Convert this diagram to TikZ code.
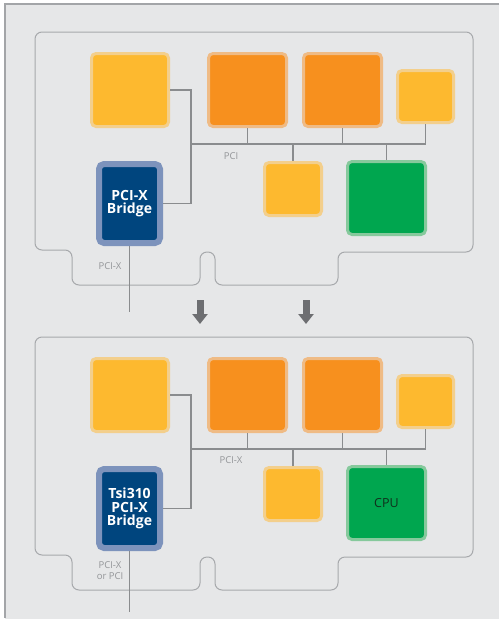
\documentclass[tikz,border=0pt]{standalone}
\usepackage{fontspec}
\setmainfont{Open Sans}
\usetikzlibrary{arrows.meta}
\definecolor{bg}{HTML}{E6E7E8}
\definecolor{framec}{HTML}{A3A5A8}
\definecolor{boardc}{HTML}{A7A9AC}
\definecolor{busc}{HTML}{8A8C8E}
\definecolor{lblc}{HTML}{939598}
\definecolor{yel}{HTML}{FDB92F}
\definecolor{yelh}{HTML}{F3CF8C}
\definecolor{org}{HTML}{F7901E}
\definecolor{orgh}{HTML}{EFBB85}
\definecolor{grn}{HTML}{00A64F}
\definecolor{grnh}{HTML}{86C99C}
\definecolor{blu}{HTML}{00457E}
\definecolor{bluh}{HTML}{7D93BC}
\definecolor{arrc}{HTML}{6D6E71}
\definecolor{cputxt}{HTML}{10301C}
\begin{document}
\begin{tikzpicture}[x=1pt,y=-1pt,
  chip/.style={rectangle, rounded corners=4.5pt, line width=3pt, inner sep=0pt},
  ybox/.style={chip, fill=yel, draw=yelh},
  obox/.style={chip, fill=org, draw=orgh},
  gbox/.style={chip, fill=grn, draw=grnh, text=cputxt, font=\fontsize{12.5}{14}\selectfont},
  bbox/.style={rectangle, rounded corners=5pt, line width=6pt, inner sep=0pt, fill=blu, draw=bluh,
    text=white, align=center, font=\bfseries\fontsize{14}{13.5}\selectfont,
    minimum width=61pt, minimum height=79pt},
  bus/.style={draw=busc, line width=1.4pt},
  board/.style={draw=boardc, line width=1pt, rounded corners=7pt},
  lbl/.style={text=lblc, font=\fontsize{9.5}{11}\selectfont, inner sep=0pt, align=center},
  bigarrow/.style={draw=arrc, line width=7pt, -{Triangle[width=15pt,length=10pt]}}
]
\useasboundingbox (0,0) rectangle (499,619);
\fill[bg] (5,4) rectangle (499,619);
\draw[framec, line width=1.2pt] (499,4) -- (5,4) -- (5,618);

% ---------- top board ----------
\draw[board] (35,250) -- (35,32) -- (473,32) -- (473,252) -- (338,252) -- (338,285)
  -- (215,285) -- (215,252) -- (200,252) -- (200,285) -- (72,285) -- (72,250) -- cycle;
\node[ybox, minimum width=77pt, minimum height=73pt] (a1) at (130,90) {};
\node[obox, minimum width=78pt, minimum height=73pt] (b1) at (247.5,90) {};
\node[obox, minimum width=78pt, minimum height=73pt] (c1) at (342.5,90) {};
\node[ybox, minimum width=56pt, minimum height=52pt] (d1) at (425.5,96.5) {};
\node[ybox, minimum width=57pt, minimum height=53pt] (e1) at (293,189) {};
\node[gbox, minimum width=78pt, minimum height=73pt] (f1) at (386.5,198) {};
\node[bbox] (g1) at (129.5,203.5) {PCI-X\\Bridge};
\coordinate (j1) at (191,144);
\coordinate (r1) at (d1.south |- j1);
\coordinate (t1) at (129.5,312);
\draw[bus] (a1.east) -| (j1) |- (g1.east);
\draw[bus] (j1) -- (r1);
\draw[bus] (b1.south) -- (b1.south |- j1);
\draw[bus] (c1.south) -- (c1.south |- j1);
\draw[bus] (d1.south) -- (r1);
\draw[bus] (e1.north) -- (e1.north |- j1);
\draw[bus] (f1.north) -- (f1.north |- j1);
\draw[bus] (g1.south) -- (t1);
\node[lbl] (l1) at (231,156) {PCI};
\node[lbl] (m1) at (110,266) {PCI-X};

% ---------- arrows ----------
\coordinate (as1) at (200,300);
\coordinate (ae1) at (200,324);
\coordinate (as2) at (306,300);
\coordinate (ae2) at (306,324);
\draw[bigarrow] (as1) -- (ae1);
\draw[bigarrow] (as2) -- (ae2);

% ---------- bottom board ----------
\begin{scope}[shift={(0,305)}]
\draw[board] (35,250) -- (35,32) -- (473,32) -- (473,252) -- (338,252) -- (338,285)
  -- (215,285) -- (215,252) -- (200,252) -- (200,285) -- (72,285) -- (72,250) -- cycle;
\node[ybox, minimum width=77pt, minimum height=73pt] (a2) at (130,90) {};
\node[obox, minimum width=78pt, minimum height=73pt] (b2) at (247.5,90) {};
\node[obox, minimum width=78pt, minimum height=73pt] (c2) at (342.5,90) {};
\node[ybox, minimum width=56pt, minimum height=52pt] (d2) at (425.5,96.5) {};
\node[ybox, minimum width=57pt, minimum height=53pt] (e2) at (293,189) {};
\node[gbox, minimum width=78pt, minimum height=73pt] (f2) at (386.5,198) {CPU};
\node[bbox] (g2) at (129.5,203.5) {Tsi310\\PCI-X\\Bridge};
\coordinate (j2) at (191,144);
\coordinate (r2) at (d2.south |- j2);
\coordinate (t2) at (129.5,307);
\draw[bus] (a2.east) -| (j2) |- (g2.east);
\draw[bus] (j2) -- (r2);
\draw[bus] (b2.south) -- (b2.south |- j2);
\draw[bus] (c2.south) -- (c2.south |- j2);
\draw[bus] (d2.south) -- (r2);
\draw[bus] (e2.north) -- (e2.north |- j2);
\draw[bus] (f2.north) -- (f2.north |- j2);
\draw[bus] (g2.south) -- (t2);
\node[lbl] (l2) at (231,155) {PCI-X};
\node[lbl] (m2) at (110,266) {PCI-X\\or PCI};
\end{scope}
\end{tikzpicture}
\end{document}
